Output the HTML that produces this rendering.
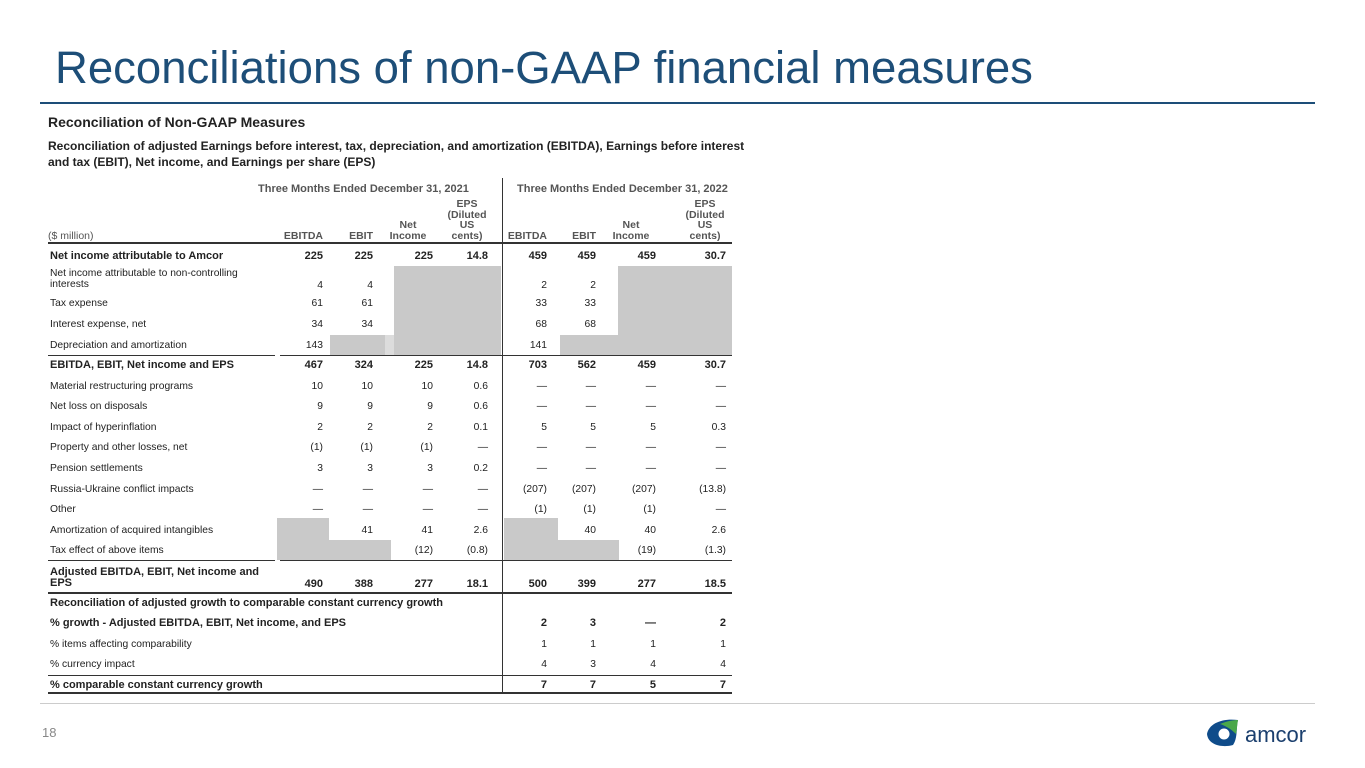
<!DOCTYPE html>
<html><head><meta charset="utf-8"><style>
body{margin:0;width:1365px;height:768px;background:#fff;position:relative;overflow:hidden;font-family:"Liberation Sans",Arial,sans-serif;color:#222}
.a{position:absolute;white-space:nowrap}
.t{font-size:10.3px;line-height:11px}
.t.b{font-size:11px}
.r{text-align:right;width:70px}
.b{font-weight:bold}
.sh{position:absolute;background:#c9c9c9}
.ln{position:absolute;background:#333}
.h{color:#555;font-size:10.5px;line-height:10.5px;text-align:center;width:50px}
</style></head><body>
<div class="a" style="left:55px;top:42px;font-size:45.5px;color:#1d4e78;line-height:52px">Reconciliations of non-GAAP financial measures</div>
<div class="ln" style="left:40px;top:102px;width:1275px;height:2px;background:#1d4e78"></div>
<div class="a b" style="left:48px;top:114px;font-size:14px">Reconciliation of Non-GAAP Measures</div>
<div class="a b" style="left:48px;top:138px;font-size:12px;line-height:16px">Reconciliation of adjusted Earnings before interest, tax, depreciation, and amortization (EBITDA), Earnings before interest<br>and tax (EBIT), Net income, and Earnings per share (EPS)</div>
<div class="a b" style="left:258px;top:183px;color:#555;font-size:11px">Three Months Ended December 31, 2021</div>
<div class="a b" style="left:517px;top:183px;color:#555;font-size:11px">Three Months Ended December 31, 2022</div>
<div class="ln" style="left:502px;top:178px;width:1px;height:516px"></div>
<div class="sh" style="left:394px;top:266px;width:107px;height:89px"></div>
<div class="sh" style="left:330px;top:335px;width:55px;height:20px"></div>
<div class="sh" style="left:385px;top:335px;width:9px;height:20px;background:#dcdcdc"></div>
<div class="sh" style="left:618px;top:266px;width:114px;height:89px"></div>
<div class="sh" style="left:560px;top:335px;width:58px;height:20px"></div>
<div class="sh" style="left:277px;top:518px;width:52px;height:42px"></div>
<div class="sh" style="left:329px;top:540px;width:62px;height:20px"></div>
<div class="sh" style="left:504px;top:518px;width:54px;height:42px"></div>
<div class="sh" style="left:558px;top:540px;width:61px;height:20px"></div>
<div class="ln" style="left:48px;top:242px;width:684px;height:2px"></div>
<div class="ln" style="left:48px;top:355px;width:227px;height:1px"></div>
<div class="ln" style="left:280px;top:355px;width:452px;height:1px"></div>
<div class="ln" style="left:48px;top:560px;width:227px;height:1px"></div>
<div class="ln" style="left:280px;top:560px;width:452px;height:1px"></div>
<div class="ln" style="left:48px;top:592px;width:684px;height:2px"></div>
<div class="ln" style="left:48px;top:675px;width:684px;height:1px"></div>
<div class="ln" style="left:48px;top:692px;width:684px;height:2px"></div>
<div class="ln" style="left:40px;top:703px;width:1275px;height:1px;background:#ccc"></div>
<div class="a" style="left:42px;top:725px;font-size:13px;color:#888">18</div>
<div class="a" style="left:1205px;top:716px;width:112px;height:34px">
<svg width="112" height="34" viewBox="0 0 112 34"><path d="M2 18 C4 7 18 2 33 4 C31 11 33 22 28 29 C17 32 3 29 2 18Z" fill="#0f4c8a"/><path d="M15 8 C22 5 29 4 33 4 C32 9 32 14 31 18 C26 13 21 10 15 8Z" fill="#4aa84a"/><circle cx="19" cy="18" r="5.5" fill="#fff"/><text x="40" y="26" font-family="Liberation Sans,sans-serif" font-size="22" fill="#1b3f6e">amcor</text></svg></div>
<div id="tbl"></div>
<script>
const cols=[323,373,433,488,547,596,656,726];
const hdrs=[["EBITDA"],["EBIT"],["Net","Income"],["EPS","(Diluted","US","cents)"],["EBITDA"],["EBIT"],["Net","Income"],["EPS","(Diluted","US","cents)"]];
const labels=["Net income attributable to Amcor","Net income attributable to non-controlling|interests","Tax expense","Interest expense, net","Depreciation and amortization","EBITDA, EBIT, Net income and EPS","Material restructuring programs","Net loss on disposals","Impact of hyperinflation","Property and other losses, net","Pension settlements","Russia-Ukraine conflict impacts","Other","Amortization of acquired intangibles","Tax effect of above items","Adjusted EBITDA, EBIT, Net income and|EPS","Reconciliation of adjusted growth to comparable constant currency growth","% growth - Adjusted EBITDA, EBIT, Net income, and EPS","% items affecting comparability","% currency impact","% comparable constant currency growth"];
const rowY=[256,279,303,324,345,365,386,406,427,447,468,489,509,530,550,578,603,623,644,664,685];
const bold=[1,0,0,0,0,1,0,0,0,0,0,0,0,0,0,1,1,1,0,0,1];
const vals=[
["225","225","225","14.8","459","459","459","30.7"],
["4","4","","","2","2","",""],
["61","61","","","33","33","",""],
["34","34","","","68","68","",""],
["143","","","","141","","",""],
["467","324","225","14.8","703","562","459","30.7"],
["10","10","10","0.6","—","—","—","—"],
["9","9","9","0.6","—","—","—","—"],
["2","2","2","0.1","5","5","5","0.3"],
["(1)","(1)","(1)","—","—","—","—","—"],
["3","3","3","0.2","—","—","—","—"],
["—","—","—","—","(207)","(207)","(207)","(13.8)"],
["—","—","—","—","(1)","(1)","(1)","—"],
["","41","41","2.6","","40","40","2.6"],
["","","(12)","(0.8)","","","(19)","(1.3)"],
["490","388","277","18.1","500","399","277","18.5"],
["","","","","","","",""],
["","","","","2","3","—","2"],
["","","","","1","1","1","1"],
["","","","","4","3","4","4"],
["","","","","7","7","5","7"]];
const T=document.getElementById('tbl');
const u=document.createElement('div');
u.className='a';u.style.left='48px';u.style.top='230px';u.style.color='#555';u.style.fontSize='10.5px';u.textContent='($ million)';


T.appendChild(u);
hdrs.forEach((h,i)=>{const d=document.createElement('div');
d.className='a h b';
if(h.length==1){d.style.textAlign='right';d.style.width='60px';d.style.left=(cols[i]-60)+'px';}
else{d.style.left=(cols[i]-(h.length>2?46:50))+'px';}
d.style.top=(241-h.length*10.5)+'px';d.innerHTML=h.join('<br>');


T.appendChild(d);});
labels.forEach((l,r)=>{const parts=l.split('|');const d=document.createElement('div');
d.className='a t'+(bold[r]?' b':'');d.style.left='50px';d.style.top=(rowY[r]-(parts.length>1?11:5))+'px';d.innerHTML=parts.join('<br>');


T.appendChild(d);
vals[r].forEach((v,c)=>{if(!v)return;const e=document.createElement('div');
e.className='a t r'+(bold[r]?' b':'');e.style.left=(cols[c]-70)+'px';e.style.top=(rowY[r]+(parts.length>1?1:-5))+'px';e.textContent=v;


T.appendChild(e);});});
</script>
</body></html>
